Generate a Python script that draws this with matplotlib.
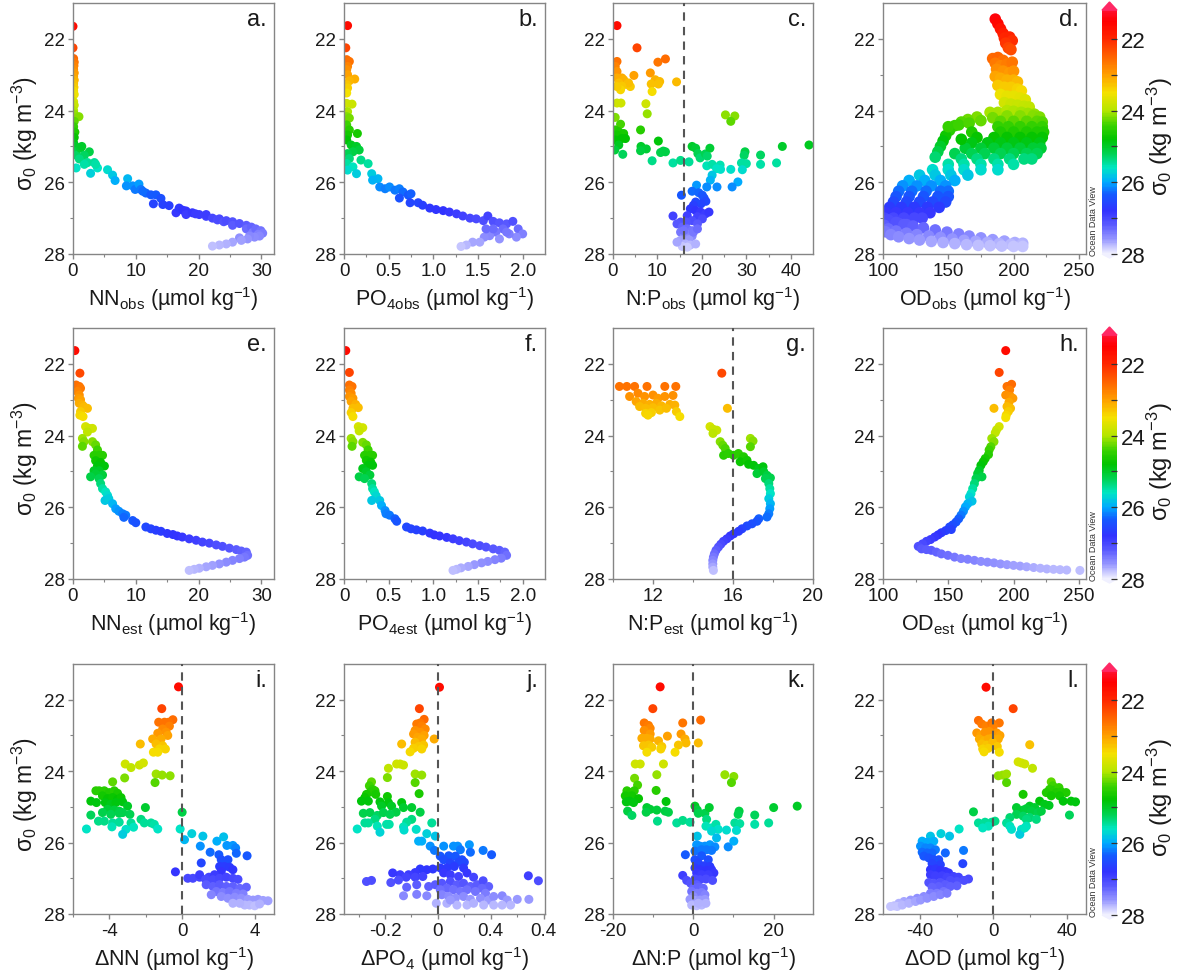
import numpy as np
import matplotlib
matplotlib.use('Agg')
import matplotlib.pyplot as plt
from matplotlib.colors import LinearSegmentedColormap, Normalize
from matplotlib.patches import Polygon

plt.rcParams['font.family'] = ['Liberation Sans', 'DejaVu Sans']
plt.rcParams['mathtext.fontset'] = 'custom'
plt.rcParams['mathtext.rm'] = 'Liberation Sans'
plt.rcParams['mathtext.it'] = 'Liberation Sans:italic'
plt.rcParams['mathtext.bf'] = 'Liberation Sans:bold'
plt.rcParams['axes.unicode_minus'] = False

# ---- data: (x value, sigma0) ----
nn_obs = [(0.0,21.65),(0.0,22.25),(0.1,22.55),(0.2,22.65),(0.15,22.75),(0.1,22.85),(0.2,22.95),(0.1,23.05),
          (0.2,23.15),(0.1,23.25),(0.15,23.35),(0.1,23.45),(0.2,23.55),(0.1,23.75),(0.2,23.85),(0.1,24.0),
          (0.2,24.1),(0.95,24.17),(0.2,24.3),(0.1,24.45),(0.3,24.6),(0.2,24.75),(0.1,24.9),(0.4,25.0),
          (0.3,25.15),(0.6,25.25),(1.2,25.05),(2.6,25.15),(1.8,25.25),(1.4,25.0),(1.0,25.35),(2.3,25.45),
          (3.4,25.45),(3.9,25.6),(2.8,25.75),(0.5,25.6),(1.8,25.5),(3.6,25.5),(5.5,25.65),(6.3,25.8),
          (6.7,25.95),(8.7,25.9),(8.5,26.1),(9.5,26.1),(9.9,26.2),(10.5,26.05),(10.8,26.2),(11.6,26.3),
          (11.1,26.25),(12.4,26.35),(13.2,26.35),(12.8,26.6),(14.0,26.45),(14.3,26.62),(15.3,26.65),
          (16.4,26.85),(16.9,26.72),(17.5,26.78),(18.0,26.8),(18.0,26.9),(19.0,26.85),(19.5,26.88),
          (20.1,26.9),(21.2,26.95),(21.2,26.9),(22.2,27.0),(23.0,27.05),(23.3,27.02),(24.0,27.1),(24.4,27.07),
          (25.4,27.1),(25.4,27.2),(26.5,27.15),(27.6,27.2),(27.6,27.3),(28.4,27.25),(28.6,27.4),(29.1,27.3),
          (29.9,27.35),(30.2,27.42),(29.5,27.45),(29.7,27.5),(28.9,27.53),(28.1,27.5),(27.8,27.58),
          (26.5,27.55),(26.8,27.62),(25.4,27.67),(24.4,27.72),(23.3,27.75),(22.2,27.78)]

po4_obs = [(0.04,21.63),(0.02,22.25),(0.03,22.58),(0.06,22.63),(0.04,22.77),(0.03,22.86),(0.04,23.0),(0.12,23.12),
           (0.06,23.17),(0.03,23.28),(0.04,23.37),(0.03,23.51),(0.03,23.8),(0.09,23.82),(0.04,24.03),(0.03,24.17),
           (0.06,24.21),(0.03,24.4),(0.06,24.54),(0.04,24.68),(0.15,24.64),(0.03,24.82),(0.08,24.96),(0.14,25.0),
           (0.17,25.1),(0.1,25.15),(0.04,25.2),(0.06,25.34),(0.19,25.38),(0.27,25.48),(0.03,25.48),(0.1,25.57),
           (0.04,25.66),(0.14,25.76),(0.31,25.76),(0.38,25.9),(0.32,25.94),(0.4,26.13),(0.46,26.18),(0.51,26.13),
           (0.57,26.22),(0.62,26.18),(0.66,26.27),(0.72,26.36),(0.75,26.32),(0.62,26.44),(0.74,26.57),(0.83,26.57),
           (0.88,26.64),(0.96,26.72),(1.03,26.76),(1.11,26.79),(1.18,26.83),(1.26,26.88),(1.33,26.94),(1.41,27.0),
           (1.48,27.02),(1.56,27.07),(1.61,26.94),(1.67,27.09),(1.74,27.13),(1.82,27.16),(1.89,27.09),(1.95,27.3),
           (2.0,27.44),(1.93,27.53),(1.85,27.44),(1.78,27.3),(1.7,27.39),(1.63,27.49),(1.74,27.58),(1.57,27.53),
           (1.52,27.67),(1.44,27.67),(1.37,27.75),(1.31,27.79),(1.59,27.3),(1.67,27.3),(1.82,27.39)]

np_obs = [(0.9,21.63),(5.4,22.25),(0.9,22.63),(10.1,22.65),(11.8,22.56),(0.5,22.77),(0.9,22.91),(8.4,22.95),
          (4.7,23.02),(0.9,23.09),(2.0,23.09),(2.4,23.14),(1.3,23.23),(3.2,23.27),(3.9,23.33),(3.5,23.23),
          (2.0,23.32),(1.7,23.42),(9.5,23.14),(10.5,23.19),(8.6,23.26),(10.2,23.26),(14.3,23.2),(8.8,23.47),
          (0.9,23.33),(0.9,23.79),(1.8,23.79),(7.4,23.81),(7.7,24.09),(0.5,24.19),(25.3,24.12),(27.4,24.15),
          (26.5,24.3),(6.2,24.54),(1.7,24.38),(0.5,24.54),(1.3,24.59),(2.4,24.64),(0.9,24.68),(2.0,24.78),
          (2.8,24.78),(0.5,24.82),(1.3,24.96),(0.4,25.1),(2.2,25.22),(6.3,25.0),(7.5,25.07),(6.2,25.12),
          (10.2,24.85),(10.7,25.17),(11.3,25.13),(11.8,25.15),(8.8,25.4),(17.8,25.0),(18.6,25.05),(19.1,25.2),
          (19.6,25.32),(20.8,25.21),(21.8,25.05),(21.2,25.27),(38.1,25.0),(44.1,24.96),(29.7,25.15),(29.5,25.25),
          (13.5,25.46),(15.2,25.39),(17.1,25.43),(21.1,25.54),(22.3,25.5),(24.1,25.52),(24.2,25.64),(23.3,25.62),
          (26.5,25.64),(28.9,25.46),(30.0,25.48),(29.1,25.65),(33.2,25.24),(33.2,25.5),(36.8,25.46),(22.3,25.8),
          (21.9,25.94),(18.8,26.08),(21.1,26.13),(23.4,26.13),(28.1,25.99),(26.8,26.13),(15.4,26.36),(17.8,26.25),
          (19.3,26.29),(20.1,26.36),(20.5,26.44),(20.9,26.53),(19.8,26.6),(18.6,26.55),(18.1,26.64),(17.4,26.74),
          (18.6,26.79),(19.7,26.83),(20.8,26.88),(21.6,26.83),(16.7,26.93),(13.5,26.94),(19.0,26.96),(20.1,27.02),
          (17.8,27.07),(16.5,27.11),(15.2,27.11),(19.0,27.16),(14.4,27.16),(15.6,27.25),(16.7,27.3),(17.8,27.35),
          (15.2,27.39),(16.5,27.44),(17.8,27.5),(16.0,27.53),(17.1,27.6),(15.2,27.62),(16.3,27.72),(17.4,27.75),
          (18.6,27.72),(15.6,27.79),(16.7,27.81),(14.4,27.67),(18.1,27.39),(19.0,27.3),(15.9,27.35)]

od_obs = [(186,21.45),(188,21.58),(190,21.72),(192,21.85),(193,21.98),(197,21.95),(199,22.05),(194,22.12),
          (196,22.25),(198,22.3),(184,22.55),(188,22.52),(192,22.6),(186,22.68),(190,22.75),(195,22.7),
          (199,22.65),(187,22.85),(192,22.9),(197,22.95),(200,22.9),(186,23.05),(190,23.1),(195,23.15),
          (200,23.15),(203,23.2),(188,23.3),(193,23.35),(198,23.35),(203,23.4),(206,23.45),(190,23.55),
          (195,23.6),(200,23.6),(205,23.65),(209,23.7),(193,23.78),(198,23.82),(203,23.85),(208,23.88),
          (212,23.9),(182,24.05),(188,24.05),(195,24.0),(200,24.02),(206,24.05),(211,24.08),(216,24.1),
          (172,24.18),(165,24.25),(160,24.32),(155,24.42),(151,24.55),(148,24.7),(146,24.85),(144,25.0),
          (142,25.15),(140,25.3),(150,24.45),(158,24.4),(166,24.35),(175,24.28),(184,24.2),
          (168,24.6),(172,24.75),(168,24.9),(163,25.05),(160,24.8),(155,25.2),
          (195,24.15),(205,24.15),(215,24.15),(220,24.18),(190,24.3),(200,24.3),(210,24.3),(218,24.3),
          (222,24.32),(188,24.45),(196,24.45),(205,24.45),(214,24.45),(222,24.45),(190,24.6),(200,24.6),
          (210,24.6),(218,24.6),(223,24.6),(185,24.75),(195,24.75),(205,24.75),(214,24.75),(222,24.75),
          (180,24.9),(190,24.9),(200,24.9),(210,24.9),(220,24.9),(175,25.05),(185,25.05),(195,25.05),
          (205,25.05),(215,25.05),(221,25.05),(168,25.2),(178,25.2),(190,25.2),(200,25.2),(210,25.2),
          (218,25.2),(160,25.35),(172,25.35),(185,25.35),(197,25.35),(208,25.35),(214,25.35),(150,25.5),
          (162,25.5),(175,25.5),(188,25.5),(200,25.5),(138,25.65),(150,25.65),(162,25.65),(175,25.65),
          (188,25.65),(128,25.8),(140,25.8),(152,25.8),(165,25.8),(120,25.95),(132,25.95),(144,25.95),
          (155,25.95),(115,26.1),(126,26.1),(137,26.1),(148,26.1),(112,26.25),(122,26.25),(133,26.25),
          (144,26.25),(150,26.25),(110,26.4),(120,26.4),(131,26.4),(142,26.4),(150,26.4),(108,26.55),
          (118,26.55),(128,26.55),(138,26.55),(148,26.55),(105,26.7),(114,26.7),(124,26.7),(134,26.7),
          (143,26.7),(102,26.85),(110,26.85),(119,26.85),(128,26.85),(136,26.85),(101,27.0),(108,27.0),
          (116,27.0),(124,27.0),(130,27.0),(101,27.1),(106,27.12),(112,27.15),(118,27.18),(100.5,27.22),
          (104,27.05),(110,27.12),(116,27.18),(123,27.22),(131,27.27),(140,27.33),(149,27.39),(158,27.44),
          (166,27.5),(175,27.55),(184,27.6),(193,27.64),(201,27.68),(207,27.7),
          (101,27.2),(104,27.3),(110,27.36),(118,27.42),(126,27.46),(135,27.5),(144,27.54),(153,27.58),
          (162,27.62),(171,27.65),(180,27.68),(189,27.71),(198,27.73),(206,27.75),
          (102,27.38),(106,27.46),(112,27.52),(120,27.57),(128,27.61),(137,27.65),(146,27.68),(155,27.71),
          (164,27.74),(173,27.76),(182,27.77),(191,27.78),(200,27.79),(207,27.79)]

nn_est = [(0.3,21.63),(1.1,22.26),(0.5,22.59),(1.0,22.63),(1.2,22.68),(0.7,22.77),(1.0,22.87),(0.85,22.96),
          (1.2,23.0),(1.0,23.1),(1.5,23.15),(1.75,23.2),(2.3,23.24),(1.2,23.33),(1.1,23.43),(1.6,23.47),
          (2.0,23.75),(2.55,23.8),(3.1,23.8),(2.3,23.9),(1.5,24.08),(1.75,24.17),(1.5,24.3),(3.1,24.17),
          (3.6,24.26),(3.9,24.4),(3.35,24.55),(4.15,24.55),(4.7,24.55),(3.6,24.7),(4.4,24.75),(3.9,24.85),
          (5.0,24.85),(3.35,24.98),(4.15,24.98),(3.6,25.07),(4.7,25.1),(2.8,25.15),(4.15,25.2),(4.4,25.34),
          (4.7,25.48),(5.2,25.57),(5.5,25.67),(5.1,25.81),(5.7,25.76),(6.3,25.9),(6.8,26.04),(7.3,26.11),
          (7.9,26.18),(8.4,26.22),(8.1,26.28),(9.5,26.37),(10.0,26.43),(11.6,26.55),(12.4,26.6),(13.2,26.64),
          (14.0,26.67),(15.0,26.73),(15.9,26.76),(16.6,26.8),(17.4,26.83),(18.5,26.88),(19.6,26.92),(20.6,26.97),
          (21.7,27.0),(22.8,27.05),(23.8,27.09),(24.9,27.14),(26.0,27.18),(26.8,27.22),(27.6,27.25),(27.8,27.34),
          (27.3,27.39),(26.5,27.43),(25.4,27.48),(24.4,27.53),(23.3,27.58),(22.2,27.62),(21.2,27.66),(20.1,27.7),
          (19.3,27.73),(18.5,27.76)]

po4_est = [(0.02,21.63),(0.06,22.24),(0.06,22.59),(0.09,22.63),(0.06,22.73),(0.08,22.82),(0.06,22.91),(0.1,22.96),
           (0.08,23.05),(0.13,23.13),(0.16,23.22),(0.1,23.24),(0.08,23.36),(0.1,23.47),(0.16,23.75),(0.19,23.8),
           (0.21,23.78),(0.17,23.87),(0.08,24.08),(0.1,24.17),(0.09,24.3),(0.21,24.19),(0.25,24.26),(0.27,24.4),
           (0.23,24.55),(0.29,24.55),(0.32,24.55),(0.25,24.69),(0.3,24.74),(0.27,24.83),(0.32,24.83),(0.21,24.92),
           (0.25,25.01),(0.29,25.1),(0.17,25.15),(0.23,25.2),(0.31,25.34),(0.32,25.48),(0.34,25.57),(0.36,25.68),
           (0.31,25.81),(0.4,25.81),(0.42,25.95),(0.46,26.09),(0.47,26.18),(0.51,26.22),(0.57,26.32),(0.59,26.39),
           (0.7,26.55),(0.75,26.6),(0.81,26.63),(0.88,26.66),(0.96,26.72),(1.01,26.77),(1.07,26.8),(1.15,26.84),
           (1.22,26.88),(1.29,26.93),(1.37,26.97),(1.44,27.02),(1.52,27.07),(1.59,27.11),(1.67,27.16),(1.74,27.2),
           (1.8,27.25),(1.82,27.34),(1.76,27.42),(1.69,27.46),(1.61,27.51),(1.54,27.55),(1.46,27.6),(1.39,27.65),
           (1.31,27.69),(1.26,27.73),(1.22,27.76)]

np_est = [(15.44,22.26),(10.32,22.63),(10.69,22.63),(11.08,22.63),(11.7,22.63),(12.59,22.63),(13.14,22.63),
          (10.83,22.91),(11.25,22.82),(11.58,22.91),(12.0,22.87),(12.25,22.96),(12.59,22.91),(13.0,22.88),
          (11.16,23.05),(11.5,23.1),(11.83,23.13),(12.17,23.1),(12.42,23.17),(12.84,23.13),(13.09,23.15),
          (11.33,23.19),(11.63,23.24),(12.0,23.22),(12.34,23.29),(12.67,23.24),(13.17,23.33),(11.63,23.38),
          (11.92,23.36),(13.34,23.47),(11.75,23.43),(15.72,23.24),(14.85,23.75),(15.0,23.82),(15.19,23.85),
          (15.0,23.94),(15.36,24.17),(15.49,24.27),(15.61,24.36),(15.53,24.55),(15.77,24.5),(16.03,24.55),
          (16.27,24.5),(16.53,24.59),(16.36,24.73),(16.7,24.69),(16.78,24.8),(16.87,24.08),(17.0,24.15),
          (16.87,24.31),(17.03,24.83),(17.29,24.92),(17.5,24.87),(17.2,25.06),(17.54,25.01),(17.7,25.11),
          (17.87,25.18),(17.62,25.2),(17.79,25.34),(17.84,25.48),(17.87,25.62),(17.79,25.76),(17.87,25.9),
          (17.84,26.04),(17.79,26.18),(17.7,26.27),(17.29,26.32),(17.2,26.39),(16.95,26.46),(16.7,26.52),
          (16.45,26.6),(16.28,26.67),(16.03,26.74),(15.86,26.8),(15.69,26.88),(15.52,26.95),(15.39,27.03),
          (15.27,27.11),(15.15,27.2),(15.07,27.3),(15.02,27.39),(14.99,27.48),(14.99,27.58),(14.99,27.67),
          (15.02,27.76)]

od_est = [(194,21.63),(189,22.24),(195,22.63),(198.5,22.57),(197,22.73),(194,22.87),(197.7,22.91),(199.5,22.96),
          (185,23.24),(196.5,23.07),(195,23.19),(197.7,23.24),(196,23.33),(194.4,23.43),(194,23.5),(189,23.75),
          (187,23.84),(186,23.92),(183.3,24.08),(185,24.17),(182.6,24.31),(181.3,24.4),(180.8,24.53),(178.3,24.64),
          (176.8,24.73),(175,24.83),(173.7,24.97),(172.5,25.06),(175.8,25.15),(171.2,25.2),(170,25.34),
          (168.7,25.48),(167.4,25.62),(166.2,25.71),(168.2,25.83),(164.9,25.9),(163.1,25.99),(161.6,26.11),
          (159.8,26.22),(158,26.32),(156,26.41),(153.5,26.49),(151,26.55),(152.3,26.62),(148,26.65),
          (144.7,26.71),(142.2,26.77),(139.6,26.83),(136.4,26.9),(133.3,26.95),(130.3,27.02),(127,27.09),
          (129.5,27.16),(133.3,27.18),(137,27.2),(140.9,27.25),(144.7,27.3),(149.7,27.34),(154.8,27.39),
          (159.8,27.43),(164.9,27.45),(170,27.48),(175,27.51),(180,27.53),(185,27.55),(190,27.58),(195,27.6),
          (200,27.62),(205,27.64),(210,27.66),(215.4,27.68),(220.5,27.7),(225.5,27.72),(230.6,27.73),
          (235.6,27.74),(240.7,27.75),(250.8,27.76)]

d_nn = [(-0.2,21.64),(-1.12,22.25),(-0.51,22.56),(-0.74,22.63),(-0.97,22.63),(-1.29,22.63),(-0.7,22.74),
        (-1.07,22.82),(-0.88,22.91),(-1.34,22.94),(-0.79,23.0),(-1.62,23.1),(-1.16,23.1),(-2.3,23.24),
        (-1.43,23.24),(-1.07,23.29),(-1.25,23.38),(-0.92,23.38),(-1.58,23.47),(-1.34,23.47),(-3.13,23.8),
        (-2.81,23.9),(-2.35,23.83),(-2.13,23.77),(-1.43,24.08),(-1.1,24.11),(-0.66,24.13),(-1.49,24.32),
        (-3.16,24.19),(-3.82,24.3),(-4.74,24.55),(-4.56,24.55),(-4.28,24.55),(-4.0,24.6),(-3.73,24.55),
        (-3.55,24.62),(-5.02,24.84),(-4.71,24.88),(-4.38,24.69),(-4.1,24.77),(-3.82,24.74),(-3.55,24.79),
        (-3.36,24.74),(-4.23,24.88),(-3.92,24.93),(-3.64,24.88),(-3.27,24.86),(-3.0,24.98),(-4.1,25.07),
        (-3.73,25.09),(-3.46,25.12),(-4.38,25.16),(-3.92,25.21),(-3.46,25.18),(-2.02,25.02),(-3.27,25.16),
        (-2.87,25.21),(-5.02,25.23),(-4.6,25.4),(-4.28,25.4),(-3.82,25.45),(-3.46,25.43),(-2.81,25.45),
        (-2.67,25.57),(-3.09,25.63),(-2.26,25.35),(-2.08,25.45),(-1.71,25.45),(-1.53,25.49),(-1.34,25.62),
        (-3.86,25.56),(-5.26,25.62),(-3.27,25.77),(0.0,25.15),(-0.11,25.62),(0.13,25.92),(0.53,25.75),
        (1.14,25.82),(1.91,25.96),(2.28,25.84),(2.46,26.08),(2.79,26.08),(2.94,26.15),(1.0,26.1),(1.54,26.27),
        (2.02,26.34),(2.98,26.3),(3.57,26.37),(1.05,26.57),(2.15,26.48),(2.52,26.48),(2.06,26.67),(2.33,26.67),
        (2.61,26.69),(2.15,26.81),(2.79,26.76),(-0.37,26.82),(0.31,27.0),(0.59,27.0),(0.96,26.97),(1.47,26.97),
        (1.78,26.9),(0.96,26.9),(1.29,27.03),(1.69,27.04),(2.06,27.0),(2.43,26.97),(2.79,27.0),(3.07,27.03),
        (1.32,27.18),(1.69,27.23),(2.06,27.18),(2.43,27.23),(2.79,27.23),(3.16,27.28),(3.53,27.25),(1.88,27.37),
        (2.24,27.4),(2.61,27.37),(2.98,27.42),(3.35,27.44),(1.6,27.46),(2.15,27.51),(2.52,27.56),(2.89,27.53),
        (3.25,27.56),(3.62,27.59),(3.9,27.61),(4.17,27.59),(4.45,27.62),(4.72,27.63),(3.71,27.75),(3.99,27.77),
        (4.26,27.72),(3.44,27.75),(3.16,27.7),(2.79,27.7)]

d_po4 = [(0.006,21.65),(-0.07,22.25),(-0.052,22.55),(-0.067,22.65),(-0.08,22.68),(-0.061,22.74),(-0.048,22.82),
         (-0.086,22.86),(-0.067,22.91),(-0.092,22.96),(-0.052,23.0),(-0.077,23.05),(-0.061,23.1),(-0.014,23.1),
         (-0.137,23.24),(-0.086,23.19),(-0.054,23.27),(-0.073,23.31),(-0.092,23.36),(-0.105,23.46),(-0.061,23.38),
         (-0.187,23.92),(-0.156,23.8),(-0.143,23.8),(-0.13,23.83),(-0.086,24.08),(-0.061,24.11),(-0.191,24.18),
         (-0.086,24.32),(-0.071,24.63),(-0.251,24.3),(-0.259,24.41),(-0.247,24.51),(-0.238,24.55),(-0.254,24.58),
         (-0.235,24.65),(-0.27,24.65),(-0.276,24.74),(-0.289,24.84),(-0.263,24.84),(-0.219,24.86),(-0.191,24.71),
         (-0.187,24.88),(-0.137,24.88),(-0.099,25.02),(-0.067,25.15),(-0.13,25.02),(-0.175,24.98),(-0.213,24.98),
         (-0.282,25.18),(-0.257,25.16),(-0.229,25.24),(-0.206,25.16),(-0.158,25.15),(-0.181,25.21),(-0.238,25.35),
         (-0.099,25.35),(-0.118,25.43),(-0.023,25.45),(-0.305,25.62),(-0.276,25.45),(-0.263,25.45),(-0.229,25.54),
         (-0.194,25.49),(-0.184,25.49),(-0.13,25.56),(-0.128,25.65),(-0.082,25.63),(-0.219,25.71),(-0.042,25.75),
         (-0.01,25.82),(-0.073,25.96),(-0.061,25.96),(-0.029,26.1),(-0.013,26.22),(0.022,26.1),(0.059,26.1),
         (0.075,26.1),(0.085,26.2),(0.119,26.06),(0.123,26.27),(0.171,26.22),(0.203,26.34),(0.009,26.38),
         (0.041,26.37),(0.022,26.48),(0.066,26.38),(0.091,26.48),(0.047,26.57),(0.078,26.55),(0.1,26.55),
         (0.009,26.71),(0.034,26.71),(0.062,26.67),(0.097,26.71),(-0.019,26.74),(-0.042,26.76),(-0.067,26.74),
         (-0.086,26.84),(-0.111,26.9),(-0.143,26.9),(-0.171,26.85),(-0.12,26.97),(-0.086,26.97),(-0.057,26.95),
         (-0.27,27.09),(-0.251,27.06),(-0.178,27.12),(-0.149,27.05),(0.022,26.85),(0.047,26.9),(0.078,26.95),
         (0.11,26.85),(0.135,26.97),(0.342,26.93),(0.38,27.07),(-0.118,27.25),(-0.08,27.18),(-0.035,27.23),
         (-0.01,27.18),(0.015,27.14),(0.047,27.09),(0.072,27.18),(0.097,27.14),(0.123,27.23),(0.148,27.18),
         (0.171,27.07),(0.192,27.23),(0.167,27.28),(0.034,27.28),(0.009,27.32),(0.059,27.32),(0.085,27.37),
         (0.11,27.32),(0.142,27.37),(0.18,27.42),(-0.13,27.49),(-0.08,27.45),(-0.042,27.49),(-0.006,27.7),
         (0.015,27.46),(0.041,27.51),(0.066,27.56),(0.097,27.51),(0.123,27.59),(0.161,27.56),(0.192,27.61),
         (0.211,27.51),(0.243,27.49),(0.262,27.61),(0.3,27.59),(0.344,27.59),(0.034,27.7),(0.072,27.75),
         (0.11,27.75),(0.135,27.7),(0.173,27.75),(0.211,27.75),(0.243,27.75),(0.275,27.75),(0.047,27.61)]

d_np = [(-8.26,21.64),(-10.08,22.25),(-12.23,22.65),(-11.16,22.72),(-10.74,22.8),(-12.23,22.86),(-10.74,22.96),
        (-2.64,22.65),(1.82,22.57),(-3.06,22.96),(-6.45,23.02),(-12.81,23.08),(-11.57,23.08),(-10.74,23.1),
        (-8.68,23.15),(-2.07,23.1),(-1.82,23.21),(1.24,23.21),(-3.72,23.27),(-12.4,23.29),(-11.16,23.27),
        (-10.33,23.33),(-7.85,23.31),(-8.1,23.38),(-11.57,23.47),(-4.55,23.47),(-14.46,23.8),(-13.22,23.8),
        (-7.44,23.8),(-9.09,24.1),(-14.63,24.2),(7.85,24.1),(10.08,24.15),(9.5,24.32),(-13.88,24.39),
        (-9.26,24.54),(-16.53,24.55),(-15.7,24.6),(-14.71,24.55),(-16.94,24.69),(-15.29,24.69),(-13.64,24.77),
        (-15.87,24.84),(-14.88,24.88),(-16.69,24.86),(-6.78,24.85),(-11.57,25.02),(-10.74,25.07),(-9.09,25.09),
        (-11.74,25.15),(-16.36,25.12),(-15.29,25.24),(-7.02,25.12),(-6.2,25.15),(0.41,24.98),(0.99,25.09),
        (1.24,25.18),(2.89,25.18),(3.97,25.02),(11.4,25.12),(11.16,25.21),(15.29,25.23),(20.0,25.02),
        (25.87,24.98),(-8.93,25.4),(-4.13,25.45),(-2.64,25.38),(-0.83,25.43),(3.31,25.35),(3.14,25.54),
        (4.55,25.59),(5.62,25.49),(6.2,25.63),(4.55,25.68),(8.26,25.65),(10.33,25.45),(11.57,25.47),
        (10.74,25.66),(15.29,25.49),(18.76,25.45),(5.79,25.87),(0.99,25.82),(8.68,26.12),(10.08,25.96),
        (0.83,26.06),(1.65,26.1),(2.89,26.1),(4.13,26.06),(5.37,26.12),(0.41,26.24),(2.07,26.2),(3.31,26.2),
        (4.55,26.22),(-1.98,26.34),(2.07,26.37),(3.72,26.48),(0.41,26.48),(1.24,26.57),(2.64,26.65),
        (4.13,26.67),(0.41,26.71),(1.65,26.76),(3.31,26.78),(4.55,26.76),(5.12,26.85),(0.83,26.85),(2.07,26.9),
        (3.72,26.9),(-2.64,26.92),(-1.65,27.06),(0.41,27.02),(1.65,27.04),(3.14,27.02),(4.79,27.06),
        (-0.66,27.14),(0.83,27.18),(0.0,27.28),(1.24,27.25),(2.48,27.28),(-0.41,27.37),(0.83,27.42),
        (2.07,27.4),(2.89,27.46),(0.0,27.51),(-0.83,27.59),(0.41,27.62),(1.65,27.61),(2.89,27.59),
        (-0.41,27.75),(0.83,27.77),(2.07,27.75),(3.14,27.7),(1.24,27.7)]

d_od = [(-3.96,21.65),(10.8,22.25),(-8.1,22.58),(-6.3,22.68),(-3.96,22.74),(-0.9,22.65),(3.24,22.65),(0.0,22.74),
        (-9.0,22.93),(-6.85,23.0),(-4.5,22.91),(-2.16,22.89),(1.8,22.93),(3.6,23.0),(-7.57,23.1),(-5.05,23.15),
        (-2.7,23.1),(-0.9,23.08),(2.7,23.1),(-6.3,23.24),(-3.6,23.27),(-0.36,23.19),(2.16,23.31),(-5.77,23.38),
        (-2.7,23.36),(3.24,23.47),(-5.05,23.46),(19.8,23.26),(13.5,23.74),(15.3,23.77),(17.1,23.8),(21.3,23.92),
        (2.7,24.13),(5.05,24.11),(7.2,24.08),(7.2,24.32),(31.5,24.3),(32.4,24.41),(30.6,24.51),(33.3,24.53),
        (35.7,24.46),(34.2,24.6),(36.9,24.58),(39.6,24.6),(28.8,24.6),(16.2,24.65),(31.5,24.69),(36.0,24.69),
        (42.3,24.84),(44.7,24.86),(38.0,24.84),(25.2,24.84),(30.3,24.96),(27.9,24.93),(19.8,24.98),(22.5,25.02),
        (18.0,25.05),(16.2,25.09),(12.6,25.02),(20.7,25.12),(24.3,25.16),(26.1,25.12),(41.4,25.23),(12.6,25.21),
        (16.2,25.26),(19.8,25.3),(-10.8,25.14),(9.0,25.3),(23.4,25.35),(18.0,25.35),(-8.1,25.45),(-4.5,25.43),
        (-0.9,25.43),(0.9,25.4),(-2.7,25.54),(-5.77,25.59),(7.2,25.45),(9.0,25.54),(9.9,25.63),(15.3,25.63),
        (18.0,25.54),(14.4,25.77),(17.1,25.59),(-18.6,25.62),(-28.5,25.75),(-23.8,25.82),(-34.2,25.82),
        (-38.7,25.96),(-36.0,25.99),(-32.4,25.96),(-39.6,26.1),(-36.9,26.15),(-34.2,26.15),(-31.5,26.2),
        (-38.7,26.27),(-36.0,26.29),(-33.3,26.29),(-16.2,26.22),(-26.1,26.29),(-37.8,26.38),(-35.1,26.43),
        (-32.4,26.48),(-29.7,26.48),(-33.3,26.59),(-28.8,26.62),(-16.6,26.59),(-34.2,26.76),(-31.5,26.74),
        (-28.8,26.78),(-26.1,26.81),(-24.3,26.85),(-34.2,26.9),(-31.5,26.93),(-27.9,26.93),(-25.2,26.97),
        (-21.6,26.95),(-18.9,26.97),(-13.5,27.02),(-15.9,27.06),(-19.8,27.09),(-23.4,27.06),(-35.1,27.12),
        (-32.4,27.14),(-28.8,27.12),(-26.1,27.18),(-29.7,27.23),(-33.3,27.25),(-23.4,27.23),(-19.8,27.21),
        (-27.0,27.37),(-30.6,27.42),(-34.2,27.42),(-37.8,27.51),(-41.4,27.56),(-45.0,27.61),(-48.6,27.65),
        (-51.4,27.7),(-54.0,27.77),(-55.9,27.79),(-52.3,27.79),(-49.5,27.75),(-45.9,27.7),(-42.3,27.65),
        (-39.6,27.61),(-36.0,27.56),(-32.4,27.51),(-28.8,27.46),(-25.2,27.42)]

letters = ['a.', 'b.', 'c.', 'd.', 'e.', 'f.', 'g.', 'h.', 'i.', 'j.', 'k.', 'l.']
xlabels = ['NN$_{\\mathregular{obs}}$ (µmol kg$^{-1}$)', 'PO$_{4\\mathregular{obs}}$ (µmol kg$^{-1}$)',
           'N:P$_{\\mathregular{obs}}$ (µmol kg$^{-1}$)', 'OD$_{\\mathregular{obs}}$ (µmol kg$^{-1}$)',
           'NN$_{\\mathregular{est}}$ (µmol kg$^{-1}$)', 'PO$_{4\\mathregular{est}}$ (µmol kg$^{-1}$)',
           'N:P$_{\\mathregular{est}}$ (µmol kg$^{-1}$)', 'OD$_{\\mathregular{est}}$ (µmol kg$^{-1}$)',
           'ΔNN (µmol kg$^{-1}$)', 'ΔPO$_4$ (µmol kg$^{-1}$)', 'ΔN:P (µmol kg$^{-1}$)', 'ΔOD (µmol kg$^{-1}$)']
xlims = [(0, 32), (0, 2.25), (0, 45), (100, 255.5), (0, 32), (0, 2.25), (10, 20), (100, 255.5),
         (-6, 5.05), (-0.355, 0.405), (-20, 29.8), (-60, 50.4)]
xticks = [[0, 10, 20, 30], [0, 0.5, 1.0, 1.5, 2.0], [0, 10, 20, 30, 40], [100, 150, 200, 250],
          [0, 10, 20, 30], [0, 0.5, 1.0, 1.5, 2.0], [12, 16, 20], [100, 150, 200, 250],
          [-4, 0, 4], [-0.2, 0, 0.2, 0.4], [-20, 0, 20], [-40, 0, 40]]
xticklabels = [['0', '10', '20', '30'], ['0', '0.5', '1.0', '1.5', '2.0'], ['0', '10', '20', '30', '40'],
               ['100', '150', '200', '250'], ['0', '10', '20', '30'], ['0', '0.5', '1.0', '1.5', '2.0'],
               ['12', '16', '20'], ['100', '150', '200', '250'], ['-4', '0', '4'],
               ['-0.2', '0', '0.4', '0.4'], ['-20', '0', '20'], ['-40', '0', '40']]
xminor = [[5, 15, 25], [0.25, 0.75, 1.25, 1.75], [5, 15, 25, 35], [125, 175, 225], [5, 15, 25],
          [0.25, 0.75, 1.25, 1.75], [10, 14, 18], [125, 175, 225], [-6, -2, 2], [-0.3, -0.1, 0.1, 0.3],
          [-10, 10], [-20, 20]]
vlines = [None, None, 16, None, None, None, 16, None, 0, 0, 0, 0]
yticks = [22, 24, 26, 28]
cbar_ticks = [22, 24, 26, 28]

# ODV-like rainbow for sigma0 21..28
cmap = LinearSegmentedColormap.from_list('odv', [
    (0.0, '#ff1a50'), (0.0714, '#ff0000'), (0.1429, '#ff2800'), (0.2143, '#ff6400'),
    (0.2857, '#ffa000'), (0.3571, '#f5e100'), (0.4286, '#b4e600'), (0.4857, '#3cd200'),
    (0.5429, '#00c300'), (0.6, '#00d250'), (0.6571, '#00e6c3'), (0.7143, '#00aaff'),
    (0.7643, '#145aff'), (0.8286, '#3232ff'), (0.8857, '#5a5aff'), (0.9429, '#9696ff'),
    (1.0, '#f0f0ff')])
norm = Normalize(21, 28)

datasets = [nn_obs, po4_obs, np_obs, od_obs, nn_est, po4_est, np_est, od_est, d_nn, d_po4, d_np, d_od]

W, H = 1177, 979
fig = plt.figure(figsize=(W / 100, H / 100), dpi=100)
col_left = [73, 344, 613, 883]
col_w = [201, 201, 200, 203]
row_top = [4, 329, 665]
row_h = [251, 251, 250]
spine_c = '#858585'

for i, pts in enumerate(datasets):
    r, c = divmod(i, 4)
    ax = fig.add_axes([col_left[c] / W, 1 - (row_top[r] + row_h[r]) / H, col_w[c] / W, row_h[r] / H])
    xs, sig = zip(*pts)
    size = 70 if i == 3 else 42
    ax.scatter(xs, sig, c=sig, cmap=cmap, norm=norm, s=size, linewidths=0, zorder=2)
    if vlines[i] is not None:
        ax.axvline(vlines[i], color='#555555', lw=1.5, ls=(0, (4, 3)), zorder=3)
    ax.set_xlim(*xlims[i])
    ax.set_ylim(28, 21)
    ax.set_xticks(xticks[i])
    ax.set_xticklabels(xticklabels[i])
    ax.set_xticks(xminor[i], minor=True)
    ax.set_yticks(yticks)
    ax.set_yticks([23, 25, 27], minor=True)
    ax.tick_params(which='major', length=3.5, width=1, color=spine_c, labelsize=13.5, pad=2, labelcolor='#1a1a1a')
    ax.tick_params(which='minor', length=2.5, width=0.8, color=spine_c)
    for sp in ax.spines.values():
        sp.set_color(spine_c)
        sp.set_linewidth(1)
    ax.set_xlabel(xlabels[i], fontsize=15.5, labelpad=4, color='#1a1a1a')
    ax.text(0.965, 0.98, letters[i], transform=ax.transAxes, ha='right', va='top', fontsize=17, color='#1a1a1a')
    if c == 0:
        fig.text(25 / W, 1 - (row_top[r] + 130) / H, 'σ$_0$ (kg m$^{-3}$)', rotation=90,
                 ha='center', va='center', fontsize=16.5, color='#1a1a1a')

# colour bars, one per row, drawn by hand so 22 sits at top like the y axes
ppu = 251 / 7.0
for r in range(3):
    top = row_top[r]
    y_lo = 21 - 1 / ppu
    y_hi = 28 + 4 / ppu
    box_top = top - 1
    box_h = 256
    cax = fig.add_axes([1102 / W, 1 - (box_top + box_h) / H, 15 / W, box_h / H])
    edges = np.linspace(21.2, 28.0, 301)
    mids = 0.5 * (edges[:-1] + edges[1:])
    cax.pcolormesh([0, 1], edges, mids.reshape(-1, 1), cmap=cmap, norm=norm, shading='flat')
    cax.add_patch(Polygon([(0, 21.2), (1, 21.2), (0.5, y_lo)], closed=True, color='#ff2864', clip_on=False))
    cax.add_patch(Polygon([(0, 28.0), (1, 28.0), (0.5, y_hi)], closed=True, color=cmap(1.0), clip_on=False))
    cax.set_xlim(0, 1)
    cax.set_ylim(y_hi, y_lo)
    for sp in cax.spines.values():
        sp.set_visible(False)
    cax.set_xticks([])
    cax.yaxis.tick_right()
    cax.set_yticks(cbar_ticks)
    cax.set_yticks([23, 25, 27], minor=True)
    cax.tick_params(which='both', direction='in', length=4, width=0.9, color='#333333',
                    labelsize=16, pad=3, labelcolor='#1a1a1a')
    fig.text(1093 / W, 1 - (top + 252) / H, 'Ocean Data View', rotation=90, ha='center', va='bottom',
             fontsize=6.5, color='#333333')
    fig.text(1160 / W, 1 - (top + 133) / H, 'σ$_0$ (kg m$^{-3}$)', rotation=90, ha='center', va='center',
             fontsize=17, color='#1a1a1a')

fig.savefig('out.png', dpi=100)
